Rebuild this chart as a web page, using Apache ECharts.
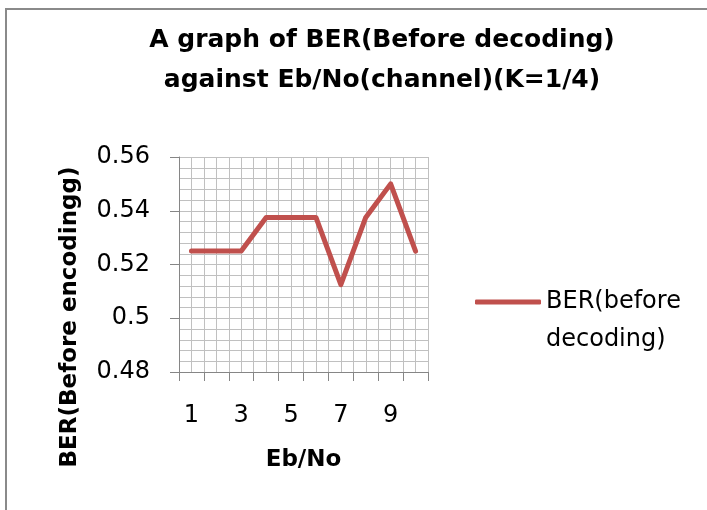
<!DOCTYPE html>
<html>
<head>
<meta charset="utf-8">
<script src="https://cdn.jsdelivr.net/npm/echarts@6/dist/echarts.min.js"></script>
<style>
  body { margin: 0; background: #fff; }
  #frame { position: absolute; left: 5px; top: 8px; width: 800px; height: 600px; border: 2px solid #8a8a8a; }
  #chart { position: absolute; left: 0; top: 0; width: 707px; height: 510px; }
</style>
</head>
<body>
<div id="frame"></div>
<div id="chart"></div>
<script>
// data
var ebNo = ['1', '2', '3', '4', '5', '6', '7', '8', '9', '10'];
var berBefore = [0.525, 0.525, 0.525, 0.5375, 0.5375, 0.5375, 0.5125, 0.5375, 0.55, 0.525];
var seriesName = 'BER(before decoding)';

var font = 'DejaVu Sans';
var chart = echarts.init(document.getElementById('chart'));

var option = {
    animation: false,
    title: {
        text: 'A graph of BER(Before decoding)\nagainst Eb/No(channel)(K=1/4)',
        left: 377,
        top: 15,
        textAlign: 'center',
        textStyle: {
            fontFamily: font,
            fontSize: 25,
            fontWeight: 'bold',
            lineHeight: 40,
            color: '#000'
        }
    },
    legend: {
        data: [seriesName],
        left: 470,
        top: 240,
        icon: 'roundRect',
        itemWidth: 66,
        itemHeight: 5,
        itemGap: 5,
        itemStyle: { color: '#C0504D' },
        // blank first line keeps the line marker level with "BER(before"
        formatter: function () { return '\nBER(before\ndecoding)'; },
        textStyle: {
            fontFamily: font,
            fontSize: 24,
            lineHeight: 38,
            color: '#000'
        }
    },
    grid: {
        left: 179,
        top: 157,
        right: 279,
        bottom: 138
    },
    xAxis: [{
        type: 'category',
        data: ebNo,
        boundaryGap: true,
        name: 'Eb/No',
        nameLocation: 'middle',
        nameGap: 77,
        nameTextStyle: { fontFamily: font, fontSize: 23, fontWeight: 'bold', color: '#000' },
        axisLine: { lineStyle: { color: '#868686', width: 1 } },
        axisTick: { show: true, interval: 0, length: 9, lineStyle: { color: '#868686' } },
        axisLabel: { interval: 1, margin: 32, fontFamily: font, fontSize: 24, color: '#000' },
        splitLine: { show: false }
    }, {
        // helper axis for the vertical gridlines (two per category)
        type: 'value',
        min: 0,
        max: 20,
        interval: 1,
        axisLine: { show: false },
        axisTick: { show: false },
        axisLabel: { show: false },
        splitLine: { show: true, lineStyle: { color: '#c0c0c0', width: 1 } }
    }],
    yAxis: {
        type: 'value',
        min: 0.48,
        max: 0.56,
        interval: 0.02,
        axisLine: { show: true, lineStyle: { color: '#868686', width: 1 } },
        axisTick: { show: true, length: 9, lineStyle: { color: '#868686' } },
        axisLabel: { margin: 29, fontFamily: font, fontSize: 24, color: '#000' },
        splitLine: { show: true, lineStyle: { color: '#c0c0c0', width: 1 } },
        minorTick: { show: false, splitNumber: 5 },
        minorSplitLine: { show: true, lineStyle: { color: '#c0c0c0', width: 1 } }
    },
    series: [{
        name: seriesName,
        type: 'line',
        xAxisIndex: 0,
        data: berBefore,
        showSymbol: false,
        symbol: 'none',
        itemStyle: { color: '#C0504D' },
        lineStyle: { color: '#C0504D', width: 5, join: 'round', cap: 'round' }
    }],
    graphic: [{
        type: 'text',
        x: 70,
        y: 317,
        rotation: Math.PI / 2,
        style: {
            text: 'BER(Before encodingg)',
            font: 'bold 23px "DejaVu Sans"',
            fill: '#000',
            align: 'center',
            verticalAlign: 'middle'
        }
    }]
};

chart.setOption(option);
</script>
</body>
</html>
